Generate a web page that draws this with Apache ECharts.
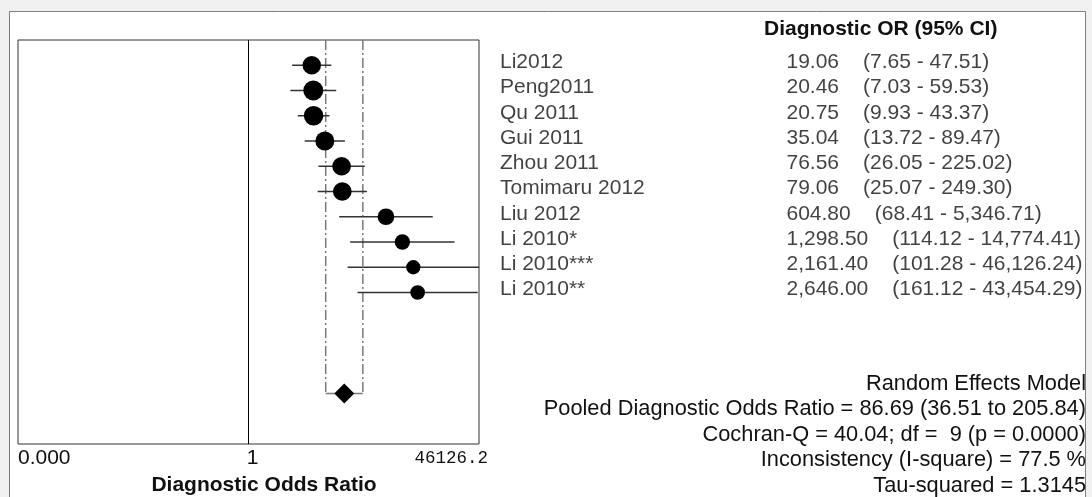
<!DOCTYPE html>
<html>
<head>
<meta charset="utf-8">
<title>Diagnostic Odds Ratio forest plot</title>
<script src="https://cdn.jsdelivr.net/npm/echarts@6/dist/echarts.min.js"></script>
<style>
  html, body { margin: 0; padding: 0; background: #f0f0f0; }
  #chart { width: 1092px; height: 497px; }
</style>
</head>
<body>
<div id="chart"></div>
<script>
// ---- data ----
const studies = ['Li2012', 'Peng2011', 'Qu 2011', 'Gui 2011', 'Zhou 2011', 'Tomimaru 2012',
                 'Liu 2012', 'Li 2010*', 'Li 2010***', 'Li 2010**'];
const dor    = [19.06, 20.46, 20.75, 35.04, 76.56, 79.06, 604.80, 1298.50, 2161.40, 2646.00];
const ciLow  = [7.65, 7.03, 9.93, 13.72, 26.05, 25.07, 68.41, 114.12, 101.28, 161.12];
const ciHigh = [47.51, 59.53, 43.37, 89.47, 225.02, 249.30, 5346.71, 14774.41, 46126.24, 43454.29];
const pooledOR = 86.69;
const pooledLow = 36.51;
const pooledHigh = 205.84;
const axisLimit = 46126.2;           // axis runs from 1/limit to limit
const axisTickLabels = ['0.000', '1', '46126.2'];
const statLines = [
  'Random Effects Model',
  'Pooled Diagnostic Odds Ratio = 86.69 (36.51 to 205.84)',
  'Cochran-Q = 40.04; df =  9 (p = 0.0000)',
  'Inconsistency (I-square) = 77.5 %',
  'Tau-squared = 1.3145'
];

// ---- styles ----
const dotSize = [18.5, 20, 19.5, 19, 18.7, 18.7, 16.7, 15.3, 14.3, 14.7];
const SANS = '"Liberation Sans", Arial, sans-serif';
const INK = '#111';
const pooledRow = 13;

const fmt = v => v.toLocaleString('en-US', { minimumFractionDigits: 2, maximumFractionDigits: 2 });

const studyData = studies.map((s, i) => [dor[i], ciLow[i], ciHigh[i], i]);

const chart = echarts.init(document.getElementById('chart'), null, { renderer: 'canvas' });

const option = {
  backgroundColor: '#f0f0f0',
  animation: false,
  grid: [
    { left: 18, top: 40, width: 461, height: 404, show: true,
      borderColor: '#333', borderWidth: 1, backgroundColor: '#fff' },
    { left: 500, top: 40, width: 592, height: 404, show: false }
  ],
  xAxis: [
    { gridIndex: 0, type: 'log', logBase: 10, min: 1 / axisLimit, max: axisLimit,
      axisLine: { show: false }, axisTick: { show: false },
      axisLabel: { show: false }, splitLine: { show: false } },
    { gridIndex: 1, type: 'value', min: 0, max: 592, show: false }
  ],
  yAxis: [
    { gridIndex: 0, type: 'value', min: -1, max: 15, inverse: true, show: false },
    { gridIndex: 1, type: 'value', min: -1, max: 15, inverse: true, show: false }
  ],
  series: [
    // pooled CI bracket (dash-dot verticals joined at the pooled row)
    {
      type: 'custom', xAxisIndex: 0, yAxisIndex: 0, z: 1, clip: true,
      data: [[pooledLow, pooledHigh]],
      renderItem(params, api) {
        const lo = api.value(0), hi = api.value(1);
        const pTopL = api.coord([lo, -1]), pBotL = api.coord([lo, pooledRow]);
        const pTopR = api.coord([hi, -1]), pBotR = api.coord([hi, pooledRow]);
        const dash = { stroke: '#7a7a7a', lineWidth: 1.5, lineDash: [10, 3, 2, 3] };
        return {
          type: 'group',
          children: [
            { type: 'line', shape: { x1: pTopL[0], y1: pTopL[1], x2: pBotL[0], y2: pBotL[1] }, style: dash },
            { type: 'line', shape: { x1: pTopR[0], y1: pTopR[1], x2: pBotR[0], y2: pBotR[1] }, style: dash },
            { type: 'line', shape: { x1: pBotL[0], y1: pBotL[1], x2: pBotR[0], y2: pBotR[1] },
              style: { stroke: '#7a7a7a', lineWidth: 1.5 } }
          ]
        };
      }
    },
    // reference line at OR = 1
    {
      type: 'line', xAxisIndex: 0, yAxisIndex: 0, data: [], z: 2,
      markLine: {
        silent: true, symbol: 'none', label: { show: false },
        lineStyle: { color: '#000', width: 1, type: 'solid' },
        data: [{ xAxis: 1 }]
      }
    },
    // study estimates with confidence intervals
    {
      type: 'custom', xAxisIndex: 0, yAxisIndex: 0, z: 3, clip: true,
      data: studyData,
      encode: { x: 0, y: 3 },
      renderItem(params, api) {
        const row = api.value(3);
        const a = api.coord([api.value(1), row]);
        const b = api.coord([api.value(2), row]);
        const c = api.coord([api.value(0), row]);
        return {
          type: 'group',
          children: [
            { type: 'line', shape: { x1: a[0], y1: a[1], x2: b[0], y2: b[1] },
              style: { stroke: '#333', lineWidth: 1.3 } },
            { type: 'circle', shape: { cx: c[0], cy: c[1], r: dotSize[params.dataIndex] / 2 },
              style: { fill: '#000' } }
          ]
        };
      }
    },
    // pooled estimate
    {
      type: 'scatter', xAxisIndex: 0, yAxisIndex: 0, z: 4,
      symbol: 'diamond', symbolSize: [20, 20],
      itemStyle: { color: '#000', opacity: 1 },
      data: [[pooledOR, pooledRow]]
    },
    // study names
    {
      type: 'scatter', xAxisIndex: 1, yAxisIndex: 1, symbolSize: 0, clip: false,
      data: studies.map((s, i) => ({ value: [0, i], name: s })),
      label: {
        show: true, position: 'right', distance: 0, offset: [0, -3],
        formatter: p => p.name,
        color: INK, fontFamily: SANS, fontSize: 21
      }
    },
    // odds ratio and 95% CI column
    {
      type: 'scatter', xAxisIndex: 1, yAxisIndex: 1, symbolSize: 0, clip: false,
      data: studies.map((s, i) => [286.5, i]),
      label: {
        show: true, position: 'right', distance: 0, offset: [0, -3],
        formatter: p => {
          const i = p.dataIndex;
          return '{v|' + fmt(dor[i]) + '}{c|(' + fmt(ciLow[i]) + ' - ' + fmt(ciHigh[i]) + ')}';
        },
        rich: {
          v: { color: INK, fontFamily: SANS, fontSize: 21 },
          c: { color: INK, fontFamily: SANS, fontSize: 21, padding: [0, 0, 0, 24] }
        }
      }
    }
  ],
  graphic: [
    { id: 'panel', type: 'rect', z: -10, silent: true,
      shape: { x: 9.5, y: 11.5, width: 1076, height: 500 },
      style: { fill: '#fff', stroke: '#7f7f7f', lineWidth: 1 } },
    { id: 'header', type: 'text', x: 764, y: 29,
      style: { text: 'Diagnostic OR (95% CI)', fill: INK, fontFamily: SANS, fontSize: 21,
               fontWeight: 'bold', align: 'left', verticalAlign: 'middle' } },
    { id: 'xtitle', type: 'text', x: 264, y: 485,
      style: { text: 'Diagnostic Odds Ratio', fill: INK, fontFamily: SANS, fontSize: 21,
               fontWeight: 'bold', align: 'center', verticalAlign: 'middle' } }
  ].concat(statLines.map((t, k) => ({
    id: 'stat' + k, type: 'text', x: 1086, y: 383.5 + k * 25.5,
    style: { text: t, fill: INK, fontFamily: SANS, fontSize: 21.8, align: 'right', verticalAlign: 'middle' }
  })))
};

chart.setOption(option);

// tick labels placed through the log scale
const tickValues = [1 / axisLimit, 1, axisLimit];
const tickX = tickValues.map(v => chart.convertToPixel({ xAxisIndex: 0 }, v));
chart.setOption({
  graphic: [
    { id: 'tick0', type: 'text', x: tickX[0], y: 458,
      style: { text: axisTickLabels[0], fill: INK, fontFamily: SANS, fontSize: 21,
               align: 'left', verticalAlign: 'middle' } },
    { id: 'tick1', type: 'text', x: tickX[1] + 4, y: 458,
      style: { text: axisTickLabels[1], fill: INK, fontFamily: SANS, fontSize: 21,
               align: 'center', verticalAlign: 'middle' } },
    { id: 'tick2', type: 'text', x: tickX[2] + 9, y: 458,
      style: { text: axisTickLabels[2], fill: '#111', fontFamily: '"Liberation Mono", monospace',
               fontSize: 17.5, align: 'right', verticalAlign: 'middle' } }
  ]
});
</script>
</body>
</html>
